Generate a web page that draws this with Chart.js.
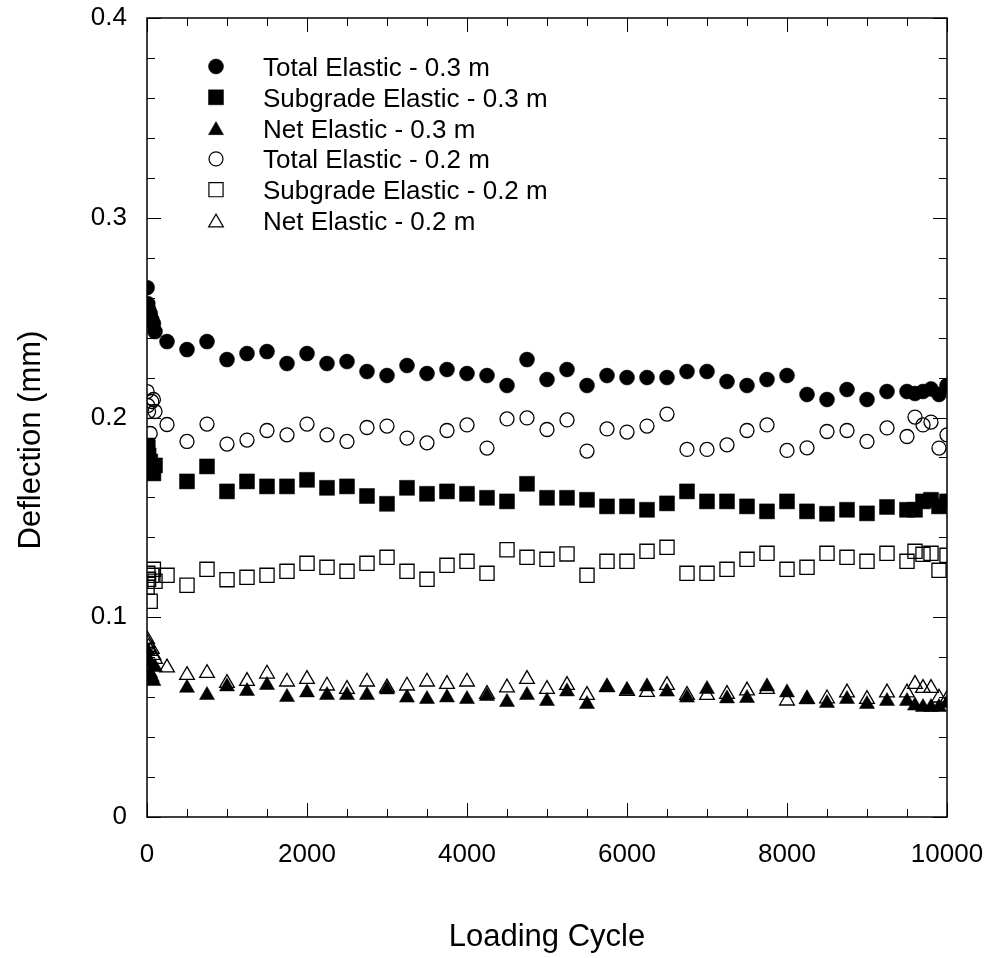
<!DOCTYPE html>
<html><head><meta charset="utf-8">
<script src="https://cdn.jsdelivr.net/npm/chart.js@4/dist/chart.umd.min.js"></script>
<style>html,body{margin:0;padding:0;background:#fff;}#wrap{width:990px;height:958px;position:relative;}</style>
</head><body><div id="wrap"><canvas id="c" width="990" height="958"></canvas></div>
<script>
// ---- data ----
const cyclesA = [1,10,20,40,60,80,100,250,500,750,1000,1250,1500,1750,2000,2250,2500,2750,3000,3250,3500,3750,4000,4250,4500,4750,5000,5250,5500,5750,6000,6250,6500,6750,7000,7250,7500,7750,8000,8250,8500,8750,9000,9250,9500,9600,9700,9800,9900,10000];
const cyclesB = [1,10,20,40,60,80,100,500,750,1000,1250,1500,1750,2000,2250,2500,2750,3000,3250,3500,3750,4000,4250,4500,4750,5000,5250,5500,5750,6000,6250,6500,6750,7000,7250,7500,7750,8000,8250,8500,8750,9000,9250,9500,9600,9700,9800,9900,10000];

const totalElastic03 = [0.265,0.257,0.254,0.252,0.249,0.247,0.243,
  0.238,0.234,0.238,0.229,0.232,0.233,0.227,0.232,0.227,0.228,
  0.223,0.221,0.226,0.222,0.224,0.222,0.221,0.216,0.229,0.219,
  0.224,0.216,0.221,0.220,0.220,0.220,0.223,0.223,0.218,0.216,
  0.219,0.221,0.2115,0.209,0.214,0.209,0.213,0.213,
  0.212,0.213,0.2143,0.2115,0.216];
const subgradeElastic03 = [0.186,0.185,0.181,0.178,0.175,0.172,0.176,
  0.168,0.1755,0.163,0.168,0.1655,0.1655,0.1688,0.1648,0.1655,
  0.1607,0.1568,0.1648,0.1618,0.163,0.1618,0.1598,0.158,0.1668,0.1598,
  0.1598,0.1588,0.1555,0.1555,0.1538,0.157,0.163,0.158,0.158,0.1555,
  0.153,0.158,0.153,0.1518,0.1538,0.152,0.1552,0.1538,
  0.1538,0.158,0.1588,0.1555,0.158];
const netElastic03 = [0.080,0.083,0.077,0.072,0.070,0.068,0.075,
  0.0646,0.061,0.0653,0.063,0.066,0.060,0.0623,0.061,0.061,
  0.061,0.0638,0.0597,0.059,0.0598,0.059,0.0605,0.0575,0.061,0.058,
  0.0628,0.0565,0.0648,0.0635,0.0653,0.0627,0.0597,0.064,0.0593,0.0595,
  0.0653,0.0623,0.0588,0.057,0.059,0.0565,0.058,0.058,
  0.0557,0.055,0.055,0.055,0.057];
const totalElastic02 = [0.213,0.206,0.203,0.192,0.208,0.209,0.203,
  0.1965,0.188,0.1967,0.1867,0.1887,0.1935,0.1913,0.1967,0.1913,0.188,
  0.195,0.1957,0.1897,0.1873,0.1935,0.1963,0.1847,0.1993,0.1998,0.194,
  0.1988,0.1832,0.1943,0.1927,0.1957,0.2017,0.184,0.184,0.1863,0.1935,
  0.1963,0.1835,0.1848,0.193,0.1935,0.188,0.1948,0.1905,
  0.2002,0.1963,0.1977,0.1847,0.1913];
const subgradeElastic02 = [0.115,0.122,0.119,0.108,0.121,0.124,0.118,
  0.121,0.116,0.124,0.1188,0.120,0.121,0.123,0.127,0.125,0.123,
  0.127,0.130,0.123,0.119,0.126,0.128,0.122,0.1338,0.130,0.129,
  0.1317,0.121,0.128,0.128,0.133,0.135,0.122,0.122,0.124,0.129,
  0.132,0.124,0.125,0.132,0.130,0.128,0.132,0.128,
  0.133,0.1315,0.132,0.1235,0.131];
const netElastic02 = [0.089,0.087,0.085,0.083,0.084,0.081,0.079,
  0.0748,0.071,0.072,0.067,0.068,0.0717,0.0677,0.069,0.0657,0.064,
  0.0677,0.0648,0.0657,0.0677,0.0665,0.0677,0.0615,0.0648,0.069,0.064,
  0.066,0.061,0.065,0.063,0.0625,0.066,0.061,0.061,0.0615,0.0633,
  0.064,0.0582,0.059,0.0593,0.0623,0.059,0.0623,0.0623,
  0.0665,0.0645,0.0645,0.0597,0.059];

const seriesLabels = ['Total Elastic - 0.3 m','Subgrade Elastic - 0.3 m','Net Elastic - 0.3 m',
                      'Total Elastic - 0.2 m','Subgrade Elastic - 0.2 m','Net Elastic - 0.2 m'];
const xTickValues = [0,2000,4000,6000,8000,10000];
const xTickLabels = ['0','2000','4000','6000','8000','10000'];
const yTickValues = [0,0.1,0.2,0.3,0.4];
const yTickLabels = ['0','0.1','0.2','0.3','0.4'];
const xMinorStep = 500, yMinorStep = 0.02;
const xTitle = 'Loading Cycle', yTitle = 'Deflection (mm)';

// ---- build ----
const FONT = "'Liberation Sans', Arial, Helvetica, sans-serif";
const pts = (xs, ys) => xs.map((x, i) => ({x: x, y: ys[i]}));
const styles = [
  {style:'circle',   r:7.5, fill:true},
  {style:'rect',     r:10.6, fill:true},
  {style:'triangle', r:8.7, fill:true},
  {style:'circle',   r:7,   fill:false},
  {style:'rect',     r:10,  fill:false},
  {style:'triangle', r:8.5, fill:false}
];
const seriesData = [pts(cyclesA,totalElastic03), pts(cyclesB,subgradeElastic03), pts(cyclesB,netElastic03),
                    pts(cyclesA,totalElastic02), pts(cyclesA,subgradeElastic02), pts(cyclesA,netElastic02)];
const datasets = seriesData.map((d, i) => ({
  label: seriesLabels[i],
  data: d,
  showLine: false,
  pointStyle: styles[i].style,
  pointRadius: styles[i].r,
  pointBorderWidth: styles[i].fill ? 0.5 : 1.3,
  pointBorderColor: '#000',
  pointBackgroundColor: styles[i].fill ? '#000' : 'rgba(0,0,0,0)'
}));

function drawMarker(ctx, s, x, y) {
  ctx.save();
  ctx.beginPath();
  const r = s.r;
  if (s.style === 'circle') ctx.arc(x, y, r, 0, Math.PI*2);
  else if (s.style === 'rect') { const h = Math.SQRT1_2*r; ctx.rect(x-h, y-h, 2*h, 2*h); }
  else { for (let k=0;k<3;k++){ const a = k*2*Math.PI/3; const px = x+Math.sin(a)*r, py = y-Math.cos(a)*r; k?ctx.lineTo(px,py):ctx.moveTo(px,py);} ctx.closePath(); }
  ctx.strokeStyle = '#000';
  if (s.fill) { ctx.fillStyle = '#000'; ctx.fill(); ctx.lineWidth = 0.5; ctx.stroke(); }
  else { ctx.lineWidth = 1.2; ctx.stroke(); }
  ctx.restore();
}

const framePlugin = {
  id: 'frame',
  afterDraw(chart) {
    const ctx = chart.ctx, a = chart.chartArea;
    const xs = chart.scales.x, ys = chart.scales.y;
    ctx.save();
    ctx.strokeStyle = '#000';
    ctx.lineWidth = 1;
    for (let v = xs.min; v <= xs.max + 1e-9; v += xMinorStep) {
      const px = Math.round(xs.getPixelForValue(v)) + 0.5;
      const len = xTickValues.some(t => Math.abs(t - v) < 1e-6) ? 14 : 8;
      ctx.beginPath();
      ctx.moveTo(px, a.bottom); ctx.lineTo(px, a.bottom - len);
      ctx.moveTo(px, a.top); ctx.lineTo(px, a.top + len);
      ctx.stroke();
    }
    for (let v = ys.min; v <= ys.max + 1e-9; v += yMinorStep) {
      const py = Math.round(ys.getPixelForValue(v)) + 0.5;
      const len = yTickValues.some(t => Math.abs(t - v) < 1e-6) ? 14 : 8;
      ctx.beginPath();
      ctx.moveTo(a.left, py); ctx.lineTo(a.left + len, py);
      ctx.moveTo(a.right, py); ctx.lineTo(a.right - len, py);
      ctx.stroke();
    }
    ctx.lineWidth = 1.5;
    ctx.strokeRect(a.left, a.top, a.right - a.left, a.bottom - a.top);
    // y axis title
    ctx.save();
    ctx.translate(31, 440);
    ctx.rotate(-Math.PI / 2);
    ctx.font = '31px ' + FONT;
    ctx.fillStyle = '#000';
    ctx.textAlign = 'center';
    ctx.textBaseline = 'middle';
    ctx.fillText(yTitle, 0, 0);
    ctx.restore();
    // legend
    const lx = 216, tx = 263, base = 66.5, step = 30.8;
    ctx.font = '26px ' + FONT;
    ctx.fillStyle = '#000';
    ctx.textAlign = 'left';
    ctx.textBaseline = 'alphabetic';
    seriesLabels.forEach((lab, i) => {
      const cy = base + i*step;
      const s = styles[i];
      if (s.style === 'triangle') drawMarker(ctx, s, lx, cy + s.r/4);
      else drawMarker(ctx, s, lx, cy);
      ctx.fillText(lab, tx, cy + 9.5);
    });
    ctx.restore();
  }
};

new Chart(document.getElementById('c'), {
  type: 'scatter',
  data: { datasets },
  options: {
    responsive: false,
    animation: false,
    devicePixelRatio: 1,
    events: [],
    layout: { autoPadding: false, padding: { top: 18, right: 43, left: 0, bottom: 0 } },
    plugins: { legend: { display: false }, tooltip: { enabled: false } },
    scales: {
      x: {
        type: 'linear', min: 0, max: 10000,
        afterFit: s => { s.height = 141; s.paddingLeft = 0; s.paddingRight = 0; },
        afterBuildTicks: s => { s.ticks = xTickValues.map(v => ({value: v})); },
        grid: { display: false, drawTicks: false },
        border: { display: false },
        ticks: { autoSkip: false, maxRotation: 0, padding: 22, color: '#000',
                 font: { family: FONT, size: 26 },
                 callback: (v, i) => xTickLabels[i] },
        title: { display: true, text: xTitle, color: '#000',
                 font: { family: FONT, size: 31 }, padding: { top: 0, bottom: 2 } }
      },
      y: {
        type: 'linear', min: 0, max: 0.4,
        afterFit: s => { s.width = 147; s.paddingTop = 0; s.paddingBottom = 0; },
        afterBuildTicks: s => { s.ticks = yTickValues.map(v => ({value: v})); },
        grid: { display: false, drawTicks: false },
        border: { display: false },
        ticks: { autoSkip: false, padding: 20, color: '#000',
                 font: { family: FONT, size: 26 },
                 callback: (v, i) => yTickLabels[i] },
        title: { display: false, text: yTitle }
      }
    }
  },
  plugins: [framePlugin]
});
</script></body></html>
